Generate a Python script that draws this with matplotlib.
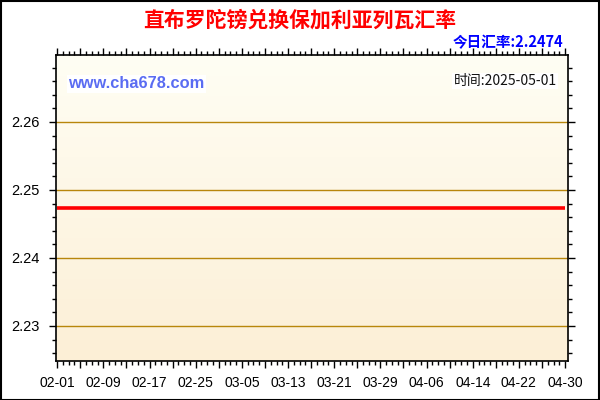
#!/usr/bin/env python3

import numpy as np
import matplotlib
matplotlib.use("Agg")
import matplotlib.pyplot as plt
from matplotlib.ticker import MultipleLocator
from matplotlib.patches import Rectangle
from matplotlib.colors import LinearSegmentedColormap

plt.rcParams['font.family'] = ['Noto Sans CJK SC', 'DejaVu Sans']

# data: day index from 02-01 (2025), rate
days = [0, 88]
rates = [2.2474, 2.2474]
tick_days = [0, 8, 16, 24, 32, 40, 48, 56, 64, 72, 80, 88]
tick_labels = ["02-01", "02-09", "02-17", "02-25", "03-05", "03-13",
               "03-21", "03-29", "04-06", "04-14", "04-22", "04-30"]
y_ticks = [2.23, 2.24, 2.25, 2.26]

title = "直布罗陀镑兑换保加利亚列瓦汇率"
today = "今日汇率:2.2474"
site = "www.cha678.com"
stamp = "时间:2025-05-01"

fig = plt.figure(figsize=(6, 4), dpi=100)
fig.patch.set_facecolor("white")
ax = fig.add_axes([56/600, 1-361/400, 512/600, 306/400])

ax.set_xlim(-0.2, 88.5)
ax.set_ylim(2.22485, 2.26985)

# gradient background
grad = np.linspace(0, 1, 256).reshape(-1, 1)
cmap = LinearSegmentedColormap.from_list("bg", ["#fcefd6", "#fffef4"])
ax.imshow(grad, aspect="auto", cmap=cmap, origin="lower",
          extent=[-0.2, 88.5, 2.22485, 2.26985], zorder=0)

for y in y_ticks:
    ax.axhline(y, color="#b8860b", lw=1, zorder=1)

ax.plot(days, rates, color="#ff0000", lw=2.6, zorder=3, solid_capstyle="butt")

# major ticks every 4 days, labels every 8
major = list(range(0, 89, 4))
ax.set_xticks(major)
ax.set_xticklabels([tick_labels[tick_days.index(d)] if d in tick_days else "" for d in major],
                   family=["Liberation Sans"], fontsize=10)
ax.xaxis.set_minor_locator(MultipleLocator(1))
ax.set_yticks(y_ticks)
ax.set_yticklabels(["%.2f" % v for v in y_ticks], family=["Liberation Sans"], fontsize=10.5)
ax.yaxis.set_minor_locator(MultipleLocator(0.002))

ax.tick_params(axis="both", which="major", direction="out", length=5, width=1,
               color="black", top=True, right=True, labeltop=False, labelright=False)
ax.tick_params(axis="both", which="minor", direction="out", length=3, width=1,
               top=True, right=True)
ax.tick_params(axis="x", pad=6)
ax.tick_params(axis="y", pad=7)
for s in ax.spines.values():
    s.set_linewidth(1.2)

fig.text(0.5, 1-20/400, title, ha="center", va="center", color="#ff0000",
         fontsize=15, fontweight="bold")
fig.text(563/600, 1-42/400, today, ha="right", va="center", color="#0000ff",
         fontsize=10.5, fontweight="bold")
ax.text(68/600, 1-84/400, site, transform=fig.transFigure, ha="left", va="center",
        color="#5a6cf2", fontsize=11.8, fontweight="bold", family=["Liberation Sans"],
        bbox=dict(facecolor="white", edgecolor="none", pad=1), zorder=5)
ax.text(557/600, 1-81/400, stamp, transform=fig.transFigure, ha="right", va="center",
        color="#111111", fontsize=10,
        bbox=dict(facecolor="white", edgecolor="none", pad=1), zorder=5)

fig.patches.append(Rectangle((0.001, 0.001), 0.997, 0.996, transform=fig.transFigure,
                             fill=False, edgecolor="black", lw=1.5))

fig.savefig("out.png", dpi=100)
